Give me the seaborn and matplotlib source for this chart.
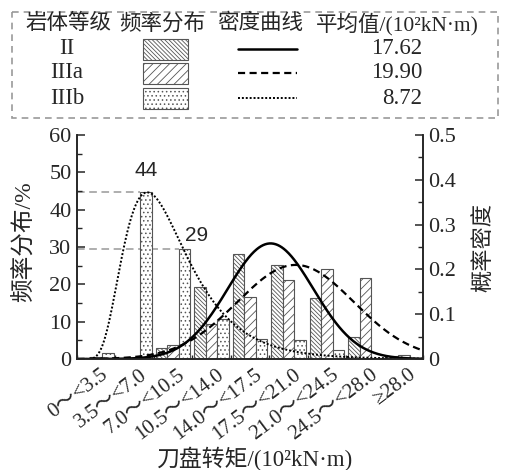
import numpy as np
import pandas as pd
import matplotlib
matplotlib.use("Agg")
import matplotlib.pyplot as plt
import seaborn as sns
from matplotlib.patches import Rectangle
from matplotlib.lines import Line2D
from matplotlib.transforms import ScaledTranslation

# ---------------- data ----------------
categories = ["0～<3.5", "3.5～<7.0", "7.0～<10.5", "10.5～<14.0", "14.0～<17.5",
              "17.5～<21.0", "21.0～<24.5", "24.5～<28.0", "≥28.0"]
grades = ["II", "IIIa", "IIIb"]
freq_II = [0.0, 0.0, 3.0, 19.2, 28.0, 25.2, 16.3, 6.0, 0.8]
freq_IIIa = [0.5, 0.0, 3.7, 9.3, 16.7, 21.1, 24.0, 21.6, 1.2]
freq_IIIb = [1.5, 44.6, 29.4, 10.7, 5.3, 5.2, 2.3, 0.3, 0.0]
mean_values = ["17.62", "19.90", "8.72"]
# density curve parameters (centre, spread, peak height)
curve_centre = [17.62, 19.90, 6.4]
curve_spread = [3.9, 5.3, 0.454]
curve_peak = [0.258, 0.210, 0.372]
bin_width = 3.5
annot_vals = [44, 29]

# ---------------- style ----------------
sns.set_style("ticks")
plt.rcParams["font.family"] = ["Liberation Serif", "Noto Sans CJK SC"]
plt.rcParams["hatch.linewidth"] = 0.6
plt.rcParams["axes.linewidth"] = 1.2

W, H = 508, 470
fig = plt.figure(figsize=(W / 100, H / 100), dpi=100)
ax = fig.add_axes([77 / W, 111 / H, 346 / W, 224 / H])

df = pd.DataFrame({
    "cat": categories * 3,
    "val": freq_II + freq_IIIa + freq_IIIb,
    "grade": sum([[g] * len(categories) for g in grades], []),
})
sns.barplot(data=df, x="cat", y="val", hue="grade", order=categories,
            hue_order=grades, width=0.9, palette=["white"] * 3, saturation=1,
            edgecolor="#555555", linewidth=0.8, legend=False, ax=ax)
hatches = ["\\\\\\\\\\\\\\\\", "////", "...."]
for cont, h in zip(ax.containers, hatches):
    for bar in cont:
        bar.set_hatch(h)
        bar.set_facecolor("white")
        bar.set_edgecolor("#555555")

ax.set_xlim(-0.5, 8.5)
ax.set_ylim(0, 60)
ax.set_xlabel("")
ax.set_ylabel("")
ax.set_yticks(np.arange(0, 61, 10))
ax.set_yticks(np.arange(0, 61, 5), minor=True)
ax.tick_params(axis="y", which="major", direction="in", length=6, width=1.1,
               labelsize=16, pad=4)
ax.tick_params(axis="y", which="minor", direction="in", length=3.5, width=1.0)
ax.set_xticks(range(len(categories)))
ax.set_xticklabels(categories, rotation=37, ha="right", va="center",
                   rotation_mode="anchor", fontsize=15)
ax.tick_params(axis="x", which="major", length=0, pad=10)
ax.set_xticks(np.arange(-0.5, len(categories), 1), minor=True)
ax.tick_params(axis="x", which="minor", direction="in", length=3, width=1.0)
for lab in ax.get_xticklabels():
    lab.set_transform(lab.get_transform() + ScaledTranslation(10 / 100, 0, fig.dpi_scale_trans))
ax.spines["top"].set_visible(False)

# reference dashed lines + annotations
bar_IIIb_left = [1 + 0.15, 2 + 0.15]
for v, xr in zip([freq_IIIb[1], freq_IIIb[2]], bar_IIIb_left):
    ax.plot([-0.5, xr], [v, v], color="#999999", lw=1.1, ls=(0, (5, 3)), zorder=0.5)
ax.text(1.3, 50.4, str(annot_vals[0]), ha="center", va="center", fontsize=15,
        family="Liberation Sans")
ax.text(2.6, 33.0, str(annot_vals[1]), ha="center", va="center", fontsize=15,
        family="Liberation Sans")

# density curves
tw = ax.twinx()
t = np.linspace(0.05, 31.5, 500)
xpos = t / bin_width - 0.5
d_II = curve_peak[0] * np.exp(-(t - curve_centre[0]) ** 2 / (2 * curve_spread[0] ** 2))
d_IIIa = curve_peak[1] * np.exp(-(t - curve_centre[1]) ** 2 / (2 * curve_spread[1] ** 2))
s = curve_spread[2]
mu = np.log(curve_centre[2]) + s ** 2
d_IIIb = curve_peak[2] * (curve_centre[2] / t) * np.exp(
    -((np.log(t) - mu) ** 2 - (np.log(curve_centre[2]) - mu) ** 2) / (2 * s ** 2))
styles = ["-", (0, (3.2, 2.0)), (0, (1, 1))]
widths = [1.8, 1.6, 1.4]
for d, ls, lw in zip([d_II, d_IIIa, d_IIIb], styles, widths):
    sns.lineplot(x=xpos, y=d, ax=tw, color="black", linestyle=ls, linewidth=lw)
tw.set_ylim(0, 0.5)
tw.set_xlim(-0.5, 8.5)
tw.set_yticks(np.arange(0, 0.51, 0.1))
tw.set_yticklabels(["0", "0.1", "0.2", "0.3", "0.4", "0.5"])
tw.set_yticks(np.arange(0, 0.51, 0.05), minor=True)
tw.tick_params(axis="y", which="major", direction="in", length=6, width=1.1,
               labelsize=16, pad=4)
tw.tick_params(axis="y", which="minor", direction="in", length=3.5, width=1.0)
tw.spines["top"].set_visible(False)
tw.set_ylabel("")

# axis titles
fig.text(25 / W, 1 - 242 / H, "频率分布/%", rotation=90, ha="center", va="center", fontsize=17)
fig.text(484 / W, 1 - 247 / H, "概率密度", rotation=90, ha="center", va="center", fontsize=16)
fig.text(255 / W, 1 - 459 / H, "刀盘转矩/(10²kN·m)", ha="center", va="center", fontsize=16.5)

# legend table
lg = fig.add_axes([0, 0, 1, 1])
lg.set_xlim(0, W)
lg.set_ylim(H, 0)
lg.axis("off")
lg.patch.set_visible(False)
lg.add_patch(Rectangle((12, 12), 486, 106, fill=False, ec="#999999", lw=1.2,
                       ls=(0, (4, 3))))
hy = 24
lg.text(68, hy, "岩体等级", ha="center", va="center", fontsize=15.5)
lg.text(162, hy, "频率分布", ha="center", va="center", fontsize=15.5)
lg.text(260, hy, "密度曲线", ha="center", va="center", fontsize=15.5)
lg.text(397, hy, "平均值/(10²kN·m)", ha="center", va="center", fontsize=15.5)
row_y = [49, 73, 98]
for i, g in enumerate(grades):
    y = row_y[i]
    lg.text(67, y, g, ha="center", va="center", fontsize=16.5)
    lg.add_patch(Rectangle((143, y - 10), 45, 21, fc="white", ec="#555555",
                           lw=0.8, hatch=hatches[i]))
    lg.add_line(Line2D([238, 297], [y, y], color="black", lw=widths[i], ls=styles[i]))
    lg.text(422, y, mean_values[i], ha="right", va="center", fontsize=16.5)

fig.savefig("out.png", dpi=100)
